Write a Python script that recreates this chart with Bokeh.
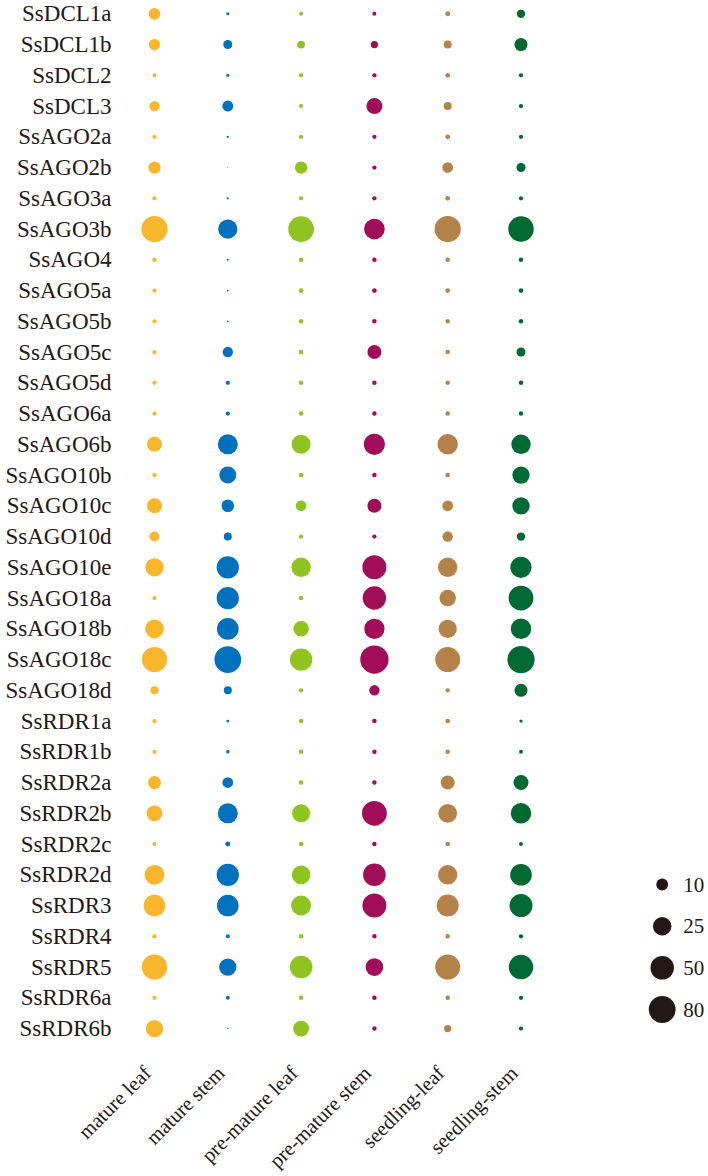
import math
import numpy as np
from bokeh.plotting import figure
from bokeh.models import ColumnDataSource, Range1d
from bokeh.embed import file_html
from bokeh.resources import INLINE
from bokeh.core.properties import value

# ---------------- data ----------------
genes = ["SsDCL1a", "SsDCL1b", "SsDCL2", "SsDCL3", "SsAGO2a", "SsAGO2b", "SsAGO3a",
         "SsAGO3b", "SsAGO4", "SsAGO5a", "SsAGO5b", "SsAGO5c", "SsAGO5d", "SsAGO6a",
         "SsAGO6b", "SsAGO10b", "SsAGO10c", "SsAGO10d", "SsAGO10e", "SsAGO18a",
         "SsAGO18b", "SsAGO18c", "SsAGO18d", "SsRDR1a", "SsRDR1b", "SsRDR2a",
         "SsRDR2b", "SsRDR2c", "SsRDR2d", "SsRDR3", "SsRDR4", "SsRDR5", "SsRDR6a",
         "SsRDR6b"]

tissues = ["mature leaf", "mature stem", "pre-mature leaf", "pre-mature stem",
           "seedling-leaf", "seedling-stem"]

mature_leaf = [9.8, 9.3, 3.4, 8.1, 3.55, 10.7, 3.55, 73.5, 3.65, 3.55, 3.55, 3.55,
               3.55, 3.55, 15.5, 3.55, 15.5, 7.8, 24.4, 3.55, 25.8, 64.0, 5.9, 3.55,
               3.55, 11.8, 17.3, 3.4, 30.0, 38.5, 3.55, 64.0, 3.55, 21.3]
mature_stem = [3.0, 6.8, 3.0, 8.9, 2.7, 2.25, 2.7, 28.0, 2.6, 2.5, 2.5, 8.2,
               3.55, 3.55, 30.9, 20.4, 11.1, 5.9, 42.4, 42.4, 39.0, 77.6, 5.9, 2.9,
               3.2, 8.7, 30.9, 3.9, 42.4, 38.5, 3.4, 21.3, 3.4, 2.4]
premature_leaf = [3.4, 5.7, 3.55, 3.4, 3.55, 10.7, 3.55, 67.6, 3.65, 3.75, 3.65, 3.65,
                  3.65, 3.65, 26.9, 3.65, 8.7, 3.55, 28.4, 3.65, 16.6, 42.4, 3.55, 3.65,
                  3.65, 3.65, 23.4, 3.65, 25.8, 30.9, 3.65, 44.7, 3.65, 17.3]
premature_stem = [3.4, 5.4, 3.55, 17.8, 3.55, 3.55, 3.55, 34.0, 3.65, 3.75, 3.65, 13.5,
                  3.65, 3.65, 36.4, 3.65, 13.5, 3.55, 53.5, 49.3, 32.2, 96.7, 8.2, 3.65,
                  3.65, 3.65, 59.8, 3.65, 44.7, 53.5, 3.65, 22.5, 3.65, 3.65]
seedling_leaf = [3.9, 5.9, 3.75, 5.9, 3.75, 8.6, 3.75, 73.5, 3.65, 3.75, 3.65, 3.65,
                 3.65, 3.65, 33.0, 3.65, 8.7, 8.2, 28.4, 19.1, 24.4, 61.4, 3.55, 3.65,
                 3.65, 13.5, 25.8, 3.65, 28.4, 40.6, 3.65, 61.4, 3.65, 5.3]
seedling_stem = [6.2, 11.8, 3.55, 3.55, 3.55, 6.8, 3.55, 65.8, 3.65, 3.75, 3.65, 6.8,
                 3.65, 3.65, 28.4, 21.3, 21.3, 6.2, 36.4, 59.8, 33.0, 84.3, 11.8, 3.05,
                 3.4, 15.5, 33.0, 3.4, 38.5, 46.6, 3.55, 57.3, 3.55, 3.55]

legend_values = [10, 25, 50, 80]
legend_labels = ["10", "25", "50", "80"]

colors = ["#F8B62D", "#0071BC", "#8FC31F", "#A10D59", "#B4834A", "#006934"]
ink = "#231815"
FONT = "Liberation Serif"


def dot_size(v):
    """diameter in screen px, log scale matching the size key"""
    v = np.asarray(v, dtype=float)
    return np.clip(-4.9 + 16.72 * np.log10(v), 0.8, None)


series = [mature_leaf, mature_stem, premature_leaf, premature_stem,
          seedling_leaf, seedling_stem]
xs, ys, vals, cols = [], [], [], []
for ti, (s, c) in enumerate(zip(series, colors)):
    for gi, v in enumerate(s):
        xs.append(ti)
        ys.append(gi)
        vals.append(v)
        cols.append(c)
src = ColumnDataSource(dict(x=xs, y=ys, val=vals, size=dot_size(vals), color=cols))

# ---------------- layout constants (px) ----------------
W, H = 708, 1176
COL0_PX, COL_STEP = 154.0, 73.3      # centre of first column, column spacing
ROW0_PX, ROW_STEP = 13.3, 30.75      # centre of first row, row spacing

x_range = Range1d(-COL0_PX / COL_STEP, (W - COL0_PX) / COL_STEP)
y_range = Range1d((H - ROW0_PX) / ROW_STEP, -ROW0_PX / ROW_STEP)   # flipped

p = figure(width=W, height=H, x_range=x_range, y_range=y_range,
           output_backend="svg", toolbar_location=None,
           x_axis_location=None, y_axis_location=None, min_border=0)
p.outline_line_color = None
p.xgrid.grid_line_color = None
p.ygrid.grid_line_color = None

# bubbles
p.scatter(x="x", y="y", size="size", color="color", line_color=None, source=src)

# gene labels (left)
gsrc = ColumnDataSource(dict(x=[0] * len(genes), y=list(range(len(genes))), t=genes))
p.text(x="x", y="y", text="t", source=gsrc, x_offset=-43,
       text_align="right", text_baseline="middle",
       text_font=value(FONT), text_font_size="23px", text_color=ink)

# tissue labels (below, rotated 45 deg)
tsrc = ColumnDataSource(dict(x=list(range(len(tissues))),
                             y=[len(genes) - 1] * len(tissues), t=tissues))
p.text(x="x", y="y", text="t", source=tsrc, x_offset=-7, y_offset=41,
       angle=math.pi / 4, text_align="right", text_baseline="alphabetic",
       text_font=value(FONT), text_font_size="20.5px", text_color=ink)

# size key
LEG_DX = (661.7 - (COL0_PX + 5 * COL_STEP)) / COL_STEP
LEG_Y0 = (884.0 - ROW0_PX) / ROW_STEP
LEG_DY = 41.67 / ROW_STEP
lsrc = ColumnDataSource(dict(
    x=[len(tissues) - 1 + LEG_DX] * len(legend_values),
    y=[LEG_Y0 + i * LEG_DY for i in range(len(legend_values))],
    size=dot_size(legend_values), t=legend_labels))
p.scatter(x="x", y="y", size="size", source=lsrc, fill_color=ink, line_color=None)
p.text(x="x", y="y", text="t", source=lsrc, x_offset=21,
       text_align="left", text_baseline="middle",
       text_font=value(FONT), text_font_size="21px", text_color=ink)

open("out.html", "w").write(file_html(p, INLINE))
